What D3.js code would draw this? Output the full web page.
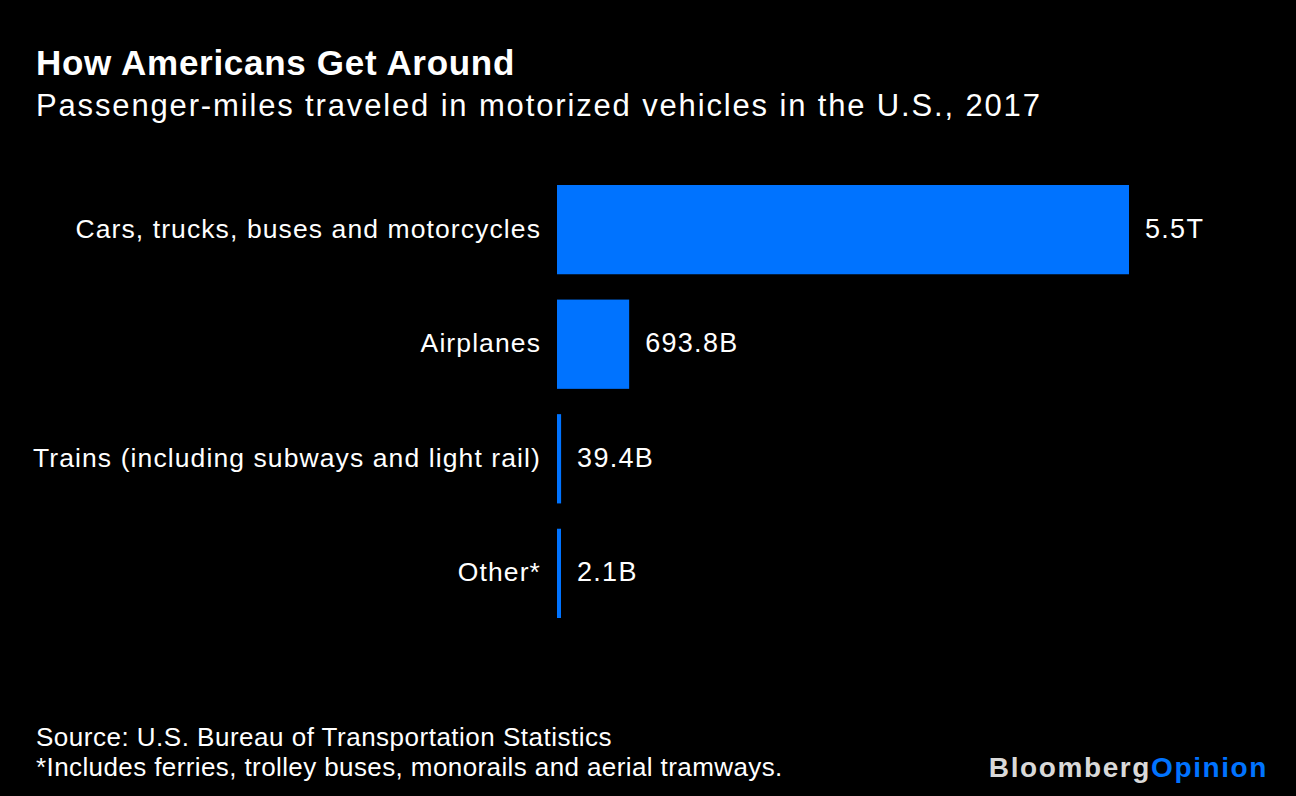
<!DOCTYPE html>
<html><head><meta charset="utf-8">
<script src="https://cdn.jsdelivr.net/npm/d3@7/dist/d3.min.js"></script>
<style>html,body{margin:0;padding:0;background:#000;}svg{display:block;}</style>
</head><body>
<script>
const categories = ["Cars, trucks, buses and motorcycles","Airplanes","Trains (including subways and light rail)","Other*"];
const values = [5500, 693.8, 39.4, 2.1]; // billions of passenger-miles
const valueLabels = ["5.5T","693.8B","39.4B","2.1B"];

const W = 1296, H = 796;
const svg = d3.select("body").append("svg").attr("width", W).attr("height", H);
svg.append("rect").attr("width", W).attr("height", H).attr("fill", "#000");
const font = "'Liberation Sans', Arial, Helvetica, sans-serif";

svg.append("text").attr("x", 36).attr("y", 75).attr("fill", "#fff")
  .attr("font-family", font).attr("font-weight", "bold").attr("font-size", 35)
  .attr("letter-spacing", 0.7).text("How Americans Get Around");
svg.append("text").attr("x", 36).attr("y", 116).attr("fill", "#fff")
  .attr("font-family", font).attr("font-size", 31).attr("letter-spacing", 1.85)
  .text("Passenger-miles traveled in motorized vehicles in the U.S., 2017");

const x = d3.scaleLinear().domain([0, 5500]).range([557, 1129]);
const y = d3.scaleBand().domain(categories).range([185, 618]).paddingInner(0.221).paddingOuter(0);
const minW = 4;
const bw = v => Math.max(minW, x(v) - x(0));

const g = svg.append("g");
const rows = g.selectAll("g.row").data(categories.map((c, i) => ({c, v: values[i], l: valueLabels[i]})))
  .enter().append("g");
rows.append("rect")
  .attr("x", x(0)).attr("y", d => y(d.c))
  .attr("width", d => bw(d.v))
  .attr("height", y.bandwidth()).attr("fill", "#0073ff");
rows.append("text")
  .attr("x", x(0) - 16).attr("y", d => y(d.c) + y.bandwidth() / 2 + 8)
  .attr("text-anchor", "end").attr("fill", "#fff")
  .attr("font-family", font).attr("font-size", 26.5).attr("letter-spacing", 1.1).text(d => d.c);
rows.append("text")
  .attr("x", d => x(0) + bw(d.v) + 16).attr("y", d => y(d.c) + y.bandwidth() / 2 + 8)
  .attr("fill", "#fff")
  .attr("font-family", font).attr("font-size", 27).attr("letter-spacing", 1.3).text(d => d.l);

svg.append("text").attr("x", 36).attr("y", 746).attr("fill", "#fff")
  .attr("font-family", font).attr("font-size", 26).attr("letter-spacing", 0.5)
  .text("Source: U.S. Bureau of Transportation Statistics");
svg.append("text").attr("x", 36).attr("y", 776).attr("fill", "#fff")
  .attr("font-family", font).attr("font-size", 26).attr("letter-spacing", 0.4)
  .text("*Includes ferries, trolley buses, monorails and aerial tramways.");

const logo = svg.append("text").attr("x", 1268).attr("y", 777).attr("text-anchor", "end")
  .attr("font-family", font).attr("font-weight", "bold").attr("font-size", 28).attr("letter-spacing", 1.6);
logo.append("tspan").attr("fill", "#d9d9d9").text("Bloomberg");
logo.append("tspan").attr("fill", "#0073ff").text("Opinion");
</script>
</body></html>
